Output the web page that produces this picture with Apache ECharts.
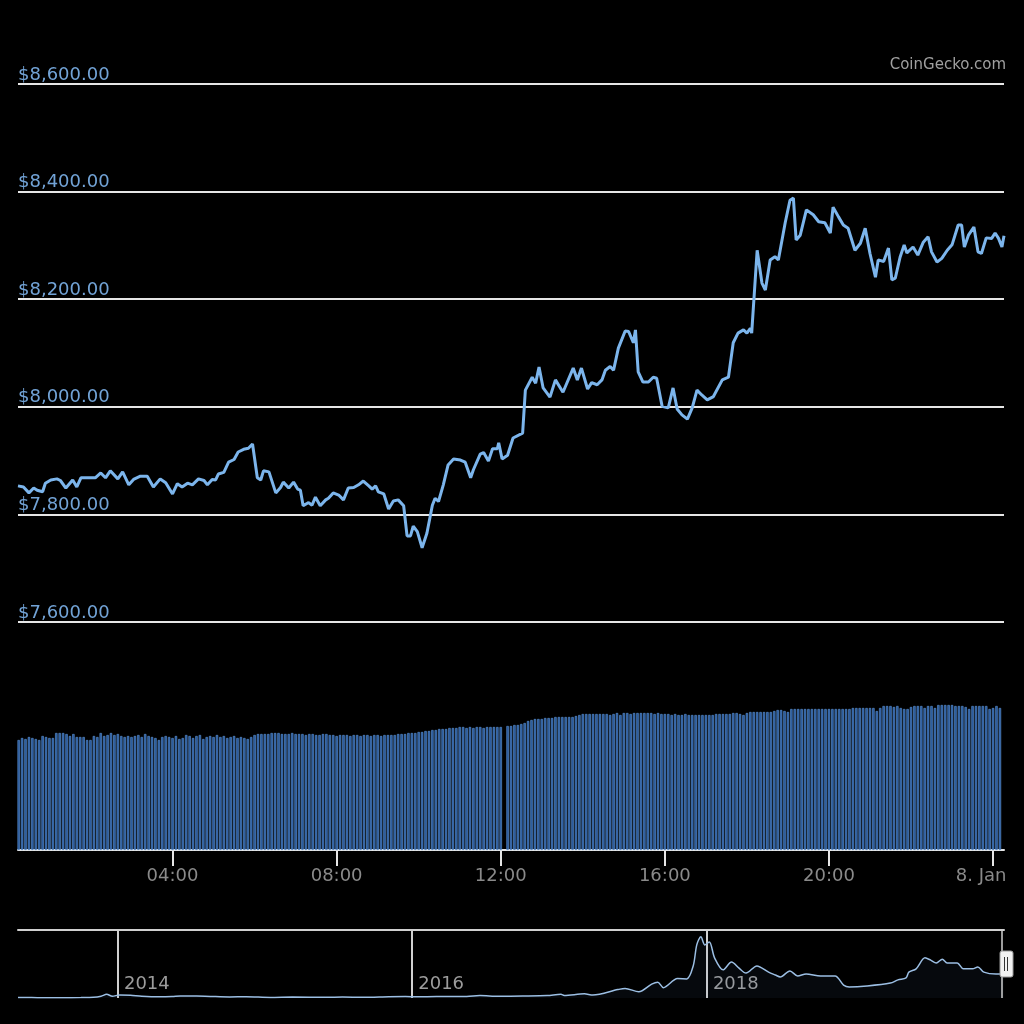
<!DOCTYPE html>
<html>
<head>
<meta charset="utf-8">
<title>BTC / USD</title>
<script src="https://cdn.jsdelivr.net/npm/echarts@6/dist/echarts.min.js"></script>
<style>
  html, body { margin: 0; padding: 0; background: #000; }
  #chart { width: 1024px; height: 1024px; }
</style>
</head>
<body>
<div id="chart"></div>
<script>
// price readings, minutes after 00:00 on 7 Jan
const priceMinutes = [
  14, 22, 30, 37, 42, 50, 54, 62, 71, 76,
  84, 88, 94, 100, 106, 116, 127, 135, 142, 149,
  160, 167, 176, 183, 193, 203, 212, 222, 230, 240,
  247, 254, 262, 269, 278, 286, 291, 298, 303, 307,
  315, 322, 330, 336, 344, 351, 357, 364, 369, 373,
  381, 391, 398, 402, 410, 417, 423, 427, 431, 439,
  444, 449, 456, 464, 468, 475, 483, 490, 497, 505,
  512, 519, 527, 532, 537, 541, 549, 556, 563, 570,
  578, 583, 588, 592, 598, 605, 612, 620, 624, 629,
  636, 643, 651, 661, 668, 676, 680, 690, 695, 702,
  708, 715, 717, 722, 730, 738, 752, 756, 766, 771,
  776, 782, 792, 800, 811, 826, 832, 838, 847, 853,
  861, 868, 873, 880, 885, 892, 902, 907, 914, 917,
  921, 928, 936, 943, 948, 956, 965, 972, 978, 985,
  993, 1000, 1007, 1014, 1022, 1031, 1044, 1053, 1060, 1067,
  1075, 1080, 1085, 1087, 1095, 1102, 1107, 1114, 1121, 1126,
  1136, 1143, 1148, 1152, 1158, 1167, 1177, 1185, 1194, 1202,
  1206, 1214, 1221, 1228, 1238, 1246, 1253, 1260, 1268, 1272,
  1280, 1287, 1292, 1297, 1304, 1310, 1314, 1323, 1330, 1338,
  1345, 1350, 1358, 1365, 1373, 1380, 1389, 1394, 1398, 1404,
  1412, 1418, 1423, 1430, 1438, 1443, 1448, 1453, 1456
];
const priceValues = [
  7853, 7851, 7840, 7849, 7845, 7842, 7858, 7864, 7866, 7863,
  7849, 7855, 7864, 7851, 7868, 7868, 7868, 7877, 7868, 7881,
  7866, 7879, 7855, 7865, 7871, 7871, 7851, 7866, 7859, 7838,
  7857, 7851, 7858, 7855, 7866, 7863, 7855, 7865, 7864, 7875,
  7878, 7897, 7902, 7916, 7921, 7923, 7931, 7868, 7864, 7881,
  7879, 7840, 7850, 7860, 7849, 7860, 7847, 7845, 7816, 7822,
  7817, 7832, 7816, 7827, 7830, 7840, 7836, 7827, 7849, 7850,
  7855, 7862, 7853, 7847, 7853, 7842, 7838, 7810, 7825, 7827,
  7816, 7760, 7760, 7778, 7768, 7738, 7765, 7817, 7830, 7824,
  7855, 7892, 7903, 7901, 7897, 7868, 7883, 7912, 7915, 7899,
  7922, 7922, 7933, 7903, 7910, 7942, 7951, 8031, 8055, 8044,
  8074, 8035, 8018, 8050, 8027, 8072, 8050, 8072, 8033, 8045,
  8041, 8050, 8068, 8075, 8068, 8109, 8141, 8140, 8119, 8143,
  8065, 8046, 8046, 8055, 8053, 8001, 7998, 8035, 7996, 7985,
  7977, 7998, 8031, 8022, 8013, 8019, 8050, 8055, 8119, 8137,
  8143, 8137, 8146, 8137, 8291, 8230, 8217, 8273, 8279, 8273,
  8342, 8384, 8388, 8310, 8319, 8366, 8357, 8344, 8342, 8323,
  8371, 8353, 8338, 8332, 8291, 8304, 8332, 8285, 8241, 8273,
  8270, 8295, 8236, 8239, 8278, 8301, 8286, 8297, 8282, 8306,
  8316, 8288, 8269, 8276, 8291, 8301, 8338, 8338, 8297, 8319,
  8334, 8288, 8285, 8314, 8313, 8323, 8313, 8297, 8318
];

// 24h volume (billion USD), one bar every 5 minutes from 00:15
// (null = bar missing around 12:05)
const volumeStart = 15;
const volumeStep = 5;
const volumeValues = [
  22.0, 22.4, 22.2, 22.6, 22.4, 22.2, 22.0, 22.8, 22.6, 22.4, 22.4, 23.4,
  23.4, 23.4, 23.2, 22.8, 23.2, 22.6, 22.6, 22.6, 22.0, 22.0, 22.8, 22.6,
  23.4, 22.8, 23.0, 23.4, 23.0, 23.2, 22.8, 22.6, 22.8, 22.6, 22.8, 23.0,
  22.6, 23.2, 22.8, 22.6, 22.4, 22.0, 22.6, 22.8, 22.6, 22.4, 22.8, 22.2,
  22.4, 23.0, 22.8, 22.4, 22.8, 23.0, 22.2, 22.6, 22.8, 22.6, 23.0, 22.6,
  22.8, 22.4, 22.6, 22.8, 22.4, 22.6, 22.4, 22.2, 22.6, 23.0, 23.2, 23.2,
  23.2, 23.2, 23.4, 23.4, 23.4, 23.2, 23.2, 23.2, 23.4, 23.2, 23.2, 23.2,
  23.0, 23.2, 23.2, 23.0, 23.0, 23.2, 23.2, 23.0, 23.0, 22.8, 23.0, 23.0,
  23.0, 22.8, 23.0, 23.0, 22.8, 23.0, 23.0, 22.8, 23.0, 23.0, 22.8, 23.0,
  23.0, 23.0, 23.0, 23.2, 23.2, 23.2, 23.4, 23.4, 23.4, 23.6, 23.6, 23.8,
  23.8, 24.0, 24.0, 24.2, 24.2, 24.2, 24.4, 24.4, 24.4, 24.6, 24.6, 24.4,
  24.6, 24.4, 24.6, 24.6, 24.4, 24.6, 24.6, 24.6, 24.6, 24.6, null, 24.8,
  24.8, 25.0, 25.0, 25.2, 25.4, 25.8, 26.0, 26.2, 26.2, 26.2, 26.4, 26.4,
  26.4, 26.6, 26.6, 26.6, 26.6, 26.6, 26.6, 26.8, 27.0, 27.2, 27.2, 27.2,
  27.2, 27.2, 27.2, 27.2, 27.2, 27.0, 27.2, 27.4, 27.0, 27.4, 27.4, 27.2,
  27.4, 27.4, 27.4, 27.4, 27.4, 27.4, 27.2, 27.4, 27.2, 27.2, 27.2, 27.0,
  27.2, 27.0, 27.0, 27.2, 27.0, 27.0, 27.0, 27.0, 27.0, 27.0, 27.0, 27.0,
  27.2, 27.2, 27.2, 27.2, 27.2, 27.4, 27.4, 27.2, 27.0, 27.4, 27.6, 27.6,
  27.6, 27.6, 27.6, 27.6, 27.6, 27.8, 28.0, 28.0, 27.8, 27.6, 28.2, 28.2,
  28.2, 28.2, 28.2, 28.2, 28.2, 28.2, 28.2, 28.2, 28.2, 28.2, 28.2, 28.2,
  28.2, 28.2, 28.2, 28.2, 28.4, 28.4, 28.4, 28.4, 28.4, 28.4, 28.4, 27.8,
  28.4, 28.8, 28.8, 28.8, 28.6, 28.8, 28.4, 28.2, 28.2, 28.6, 28.8, 28.8,
  28.8, 28.4, 28.8, 28.8, 28.4, 29.0, 29.0, 29.0, 29.0, 29.0, 28.8, 28.8,
  28.8, 28.6, 28.2, 28.8, 28.8, 28.8, 28.8, 28.8, 28.2, 28.4, 28.8, 28.4
];

// time axis ticks (minutes)
const timeTicks = [240, 480, 720, 960, 1200, 1440];

// navigator: full price history
const navDates = [
  '2013-04-28', '2013-06-01', '2013-07-05', '2013-08-15', '2013-10-01', '2013-11-01',
  '2013-11-20', '2013-12-04', '2013-12-18', '2014-01-05', '2014-02-01', '2014-03-01',
  '2014-04-10', '2014-05-15', '2014-06-05', '2014-07-15', '2014-08-18', '2014-10-05',
  '2014-11-15', '2015-01-14', '2015-03-10', '2015-06-01', '2015-07-12', '2015-09-01',
  '2015-11-04', '2015-12-15', '2016-01-15', '2016-03-01', '2016-05-15', '2016-06-17',
  '2016-08-02', '2016-10-01', '2016-12-01', '2017-01-04', '2017-01-12', '2017-03-03',
  '2017-03-24', '2017-05-25', '2017-06-12', '2017-07-16', '2017-08-17', '2017-09-01',
  '2017-09-15', '2017-10-20', '2017-11-12', '2017-11-28', '2017-12-07', '2017-12-17',
  '2017-12-27', '2018-01-07', '2018-01-20', '2018-02-10', '2018-03-03', '2018-03-21',
  '2018-04-08', '2018-05-05', '2018-06-03', '2018-06-20', '2018-07-02', '2018-07-26',
  '2018-08-14', '2018-09-04', '2018-10-10', '2018-11-15', '2018-12-06', '2018-12-20',
  '2019-02-02', '2019-04-01', '2019-04-20', '2019-05-10', '2019-05-17', '2019-06-04',
  '2019-06-26', '2019-07-10', '2019-07-24', '2019-08-08', '2019-08-20', '2019-09-14',
  '2019-09-29', '2019-10-22', '2019-11-04', '2019-11-19', '2019-12-19', '2020-01-07'
];
const navPrices = [
  135, 120, 70, 100, 125, 200,
  550, 1150, 520, 950, 830, 560,
  380, 450, 650, 620, 480, 320,
  400, 180, 290, 225, 310, 230,
  400, 460, 375, 430, 455, 750,
  545, 615, 755, 1135, 800, 1280,
  930, 2600, 2950, 1930, 4300, 4900,
  3200, 6000, 5900, 9900, 16500, 18900,
  16400, 17300, 12400, 8700, 11100, 9300,
  7700, 9900, 8000, 7100, 6500, 8350,
  6800, 7400, 6800, 6800, 4000, 3400,
  3700, 4600, 5600, 6200, 8000, 9000,
  12400, 11700, 10800, 12000, 10800, 10800,
  9000, 9000, 9600, 8000, 7400, 7500
];
const navYearTicks = ['2014-01-01', '2016-01-01', '2018-01-01'];
const navStart = '2013-04-28';
const navEnd = '2020-01-08';

const FONT = '"DejaVu Sans", sans-serif';

function pad(n) {
  return n < 10 ? '0' + n : '' + n;
}

function timeLabel(m) {
  // the day label is pulled left so it stays inside the plot
  if (m % 1440 === 0) return '{day|8. Jan}';
  return pad(Math.floor(m / 60)) + ':' + pad(m % 60);
}

const chart = echarts.init(document.getElementById('chart'));

const yearTicks = navYearTicks.map(d => Date.parse(d));
const navMin = Date.parse(navStart);
const navMax = Date.parse(navEnd);

const option = {
  backgroundColor: '#000',
  animation: false,
  textStyle: { fontFamily: FONT },
  title: {
    text: 'CoinGecko.com',
    right: 13,
    top: 53,
    textStyle: { color: '#a0a0a0', fontSize: 15, fontWeight: 'normal', fontFamily: FONT }
  },
  grid: [
    { left: 18, right: 20, top: 84, height: 538 },
    { left: 18, right: 20, top: 650, height: 200 },
    { left: 18, right: 20, top: 930, height: 68 }
  ],
  xAxis: [
    { gridIndex: 0, type: 'value', min: 14, max: 1456, show: false },
    {
      gridIndex: 1, type: 'value', min: 14, max: 1456,
      axisLine: { lineStyle: { color: '#e6e6e6', width: 2 } },
      axisTick: { customValues: timeTicks, length: 16, lineStyle: { color: '#e6e6e6', width: 2 } },
      axisLabel: {
        customValues: timeTicks, formatter: timeLabel,
        color: '#8a8a8a', fontSize: 18, margin: 17, fontFamily: FONT,
        rich: { day: { color: '#8a8a8a', fontSize: 18, fontFamily: FONT, padding: [0, 24, 0, 0] } }
      },
      splitLine: { show: false }
    },
    {
      gridIndex: 2, type: 'value', min: navMin, max: navMax,
      axisLine: { show: false },
      axisTick: { customValues: yearTicks, inside: true, length: 68, lineStyle: { color: '#d0d0d0', width: 2 } },
      axisLabel: {
        customValues: yearTicks, inside: true,
        formatter: v => String(new Date(v).getFullYear()),
        align: 'left', verticalAlign: 'bottom', padding: [0, 0, 0, 6], margin: 5,
        color: '#9c9c9c', fontSize: 18, fontFamily: FONT
      },
      splitLine: { show: false }
    },
    {
      gridIndex: 2, type: 'value', position: 'top', min: navMin, max: navMax,
      axisLine: { show: true, lineStyle: { color: '#d0d0d0', width: 2 } },
      axisTick: { show: false }, axisLabel: { show: false }, splitLine: { show: false }
    }
  ],
  yAxis: [
    {
      gridIndex: 0, type: 'value', min: 7600, max: 8600, interval: 200,
      axisLine: { show: false }, axisTick: { show: false },
      axisLabel: {
        inside: true, verticalAlign: 'bottom', margin: 0,
        color: '#72a3d6', fontSize: 18, fontFamily: FONT,
        formatter: v => '$' + v.toLocaleString('en-US', { minimumFractionDigits: 2, maximumFractionDigits: 2 })
      },
      splitLine: { lineStyle: { color: '#e6e6e6', width: 2 } }
    },
    { gridIndex: 1, type: 'value', min: 0, max: 40, show: false },
    { gridIndex: 2, type: 'value', min: 0, max: 21000, show: false }
  ],
  series: [
    {
      name: 'Price',
      type: 'line',
      xAxisIndex: 0, yAxisIndex: 0,
      data: priceMinutes.map((m, i) => [m, priceValues[i]]),
      showSymbol: false,
      lineStyle: { color: '#7cb5ec', width: 3 },
      z: 5
    },
    {
      name: 'Volume',
      type: 'bar',
      xAxisIndex: 1, yAxisIndex: 1,
      data: volumeValues.map((v, i) => [volumeStart + i * volumeStep, v]),
      barWidth: 2.4,
      itemStyle: { color: '#28579a', borderColor: '#5f97d8', borderWidth: 0.6 }
    },
    {
      name: 'History',
      type: 'line',
      xAxisIndex: 2, yAxisIndex: 2,
      data: navDates.map((d, i) => [Date.parse(d), navPrices[i]]),
      showSymbol: false,
      smooth: 0.3,
      lineStyle: { color: '#9cbfe4', width: 1.5 },
      areaStyle: { color: 'rgba(90,130,190,0.10)' }
    }
  ]
};

chart.setOption(option);

// navigator handle at the right end of the selected range
const endPx = chart.convertToPixel({ xAxisIndex: 2 }, navMax);
const topPx = chart.convertToPixel({ yAxisIndex: 2 }, 21000);
const botPx = chart.convertToPixel({ yAxisIndex: 2 }, 0);
const midPx = (topPx + botPx) / 2;
chart.setOption({
  graphic: [
    {
      type: 'line', shape: { x1: endPx - 2, y1: topPx, x2: endPx - 2, y2: botPx },
      style: { stroke: '#d0d0d0', lineWidth: 1.5 }, z: 10
    },
    {
      type: 'rect', shape: { x: endPx - 4, y: midPx - 13, width: 13, height: 26, r: 2 },
      style: { fill: '#f2f2f2', stroke: '#999', lineWidth: 1 }, z: 11
    },
    {
      type: 'line', shape: { x1: endPx + 0.5, y1: midPx - 7, x2: endPx + 0.5, y2: midPx + 7 },
      style: { stroke: '#333', lineWidth: 1 }, z: 12
    },
    {
      type: 'line', shape: { x1: endPx + 3.5, y1: midPx - 7, x2: endPx + 3.5, y2: midPx + 7 },
      style: { stroke: '#333', lineWidth: 1 }, z: 12
    }
  ]
});
</script>
</body>
</html>
